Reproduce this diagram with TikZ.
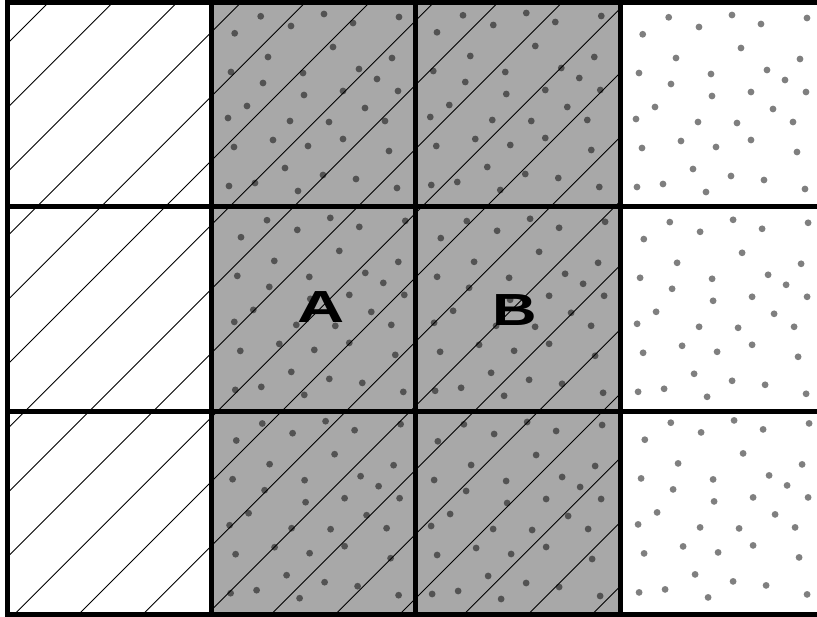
\documentclass[tikz,border=0pt]{standalone}
\usepackage{graphicx}
\usepackage{fontspec}
\newfontfamily\lblfont{Liberation Sans}
\def\dotlist{22.7/31.6, 48.7/14.6, 79/24.3, 112/12.3, 141/21.3, 187/15.3, 121/45.3, 56/55.3, 180/56.3, 19/70.3, 91/71.3, 147/67.3, 51/81.3, 165/77.3, 92/93.3, 131/89.3, 186/89.3, 35/104.3, 153/106.3, 16/116.3, 78/119.3, 117/120.3, 173/119.3, 22/145.3, 61/138.3, 96/144.3, 131/137.3, 177/149.3, 73/166.3, 111/173.3, 144/177.3, 17/184.3, 43/181.3, 86/189.3, 185/186.3}
\begin{document}
\begin{tikzpicture}[x=1pt,y=-1pt,
  gridline/.style={line width=5pt, line cap=rect},
  hatchline/.style={line width=0.9pt},
  dotmark/.style={fill=black, fill opacity=0.5},
  cellfill/.style={fill=black!34},
  lbl/.style={inner sep=0pt, font=\lblfont\bfseries\fontsize{45}{50}\selectfont}]
\useasboundingbox (0,0) rectangle (817,617);
\begin{scope}
\clip (0,0) rectangle (817,617);
\fill[cellfill] (211.3,2.7) rectangle (620,614.5);
\begin{scope}
\clip (7.5,2.7) rectangle (620,614.5);
\foreach \k in {0,...,19}
  \draw[hatchline] ({51+64.2*\k},0) -- ({51+64.2*\k-700},700);
\end{scope}
\foreach \ox/\oy in {212.0/1.7, 414.3/0.7, 620/2.7, 218.3/205.6, 418.1/206.5, 621.1/207.5, 213.6/408.9, 415.15/409.7, 622.1/408.1}
  \foreach \dx/\dy in \dotlist
    \fill[dotmark] ({\ox+\dx},{\oy+\dy}) circle[radius=3.4];
\foreach \gx in {7.5,211.3,415.5,620}
  \draw[gridline] (\gx,2.7) -- (\gx,614.5);
\foreach \gy in {2.7,206.5,411.5,614.5}
  \draw[gridline] (7.5,\gy) -- (824.3,\gy);
\node[lbl] (A) at (321.5,307) {\scalebox{1.45}[1]{A}};
\node[lbl] (B) at (514.3,310) {\scalebox{1.37}[1]{B}};
\end{scope}
\end{tikzpicture}
\end{document}
